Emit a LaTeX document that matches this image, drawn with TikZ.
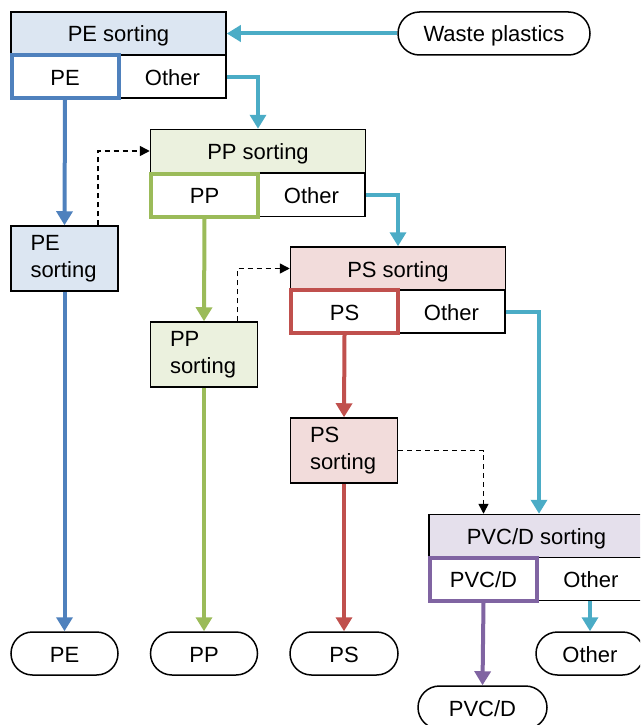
\documentclass[tikz,border=0pt]{standalone}
\usepackage{fontspec}
\setmainfont{Liberation Sans}
\usetikzlibrary{arrows.meta,calc}
\definecolor{peblue}{HTML}{4F81BD}
\definecolor{pefill}{HTML}{DCE6F2}
\definecolor{ppgreen}{HTML}{9BBB59}
\definecolor{ppfill}{HTML}{EBF1DE}
\definecolor{psred}{HTML}{C0504D}
\definecolor{psfill}{HTML}{F2DCDB}
\definecolor{pvcpurple}{HTML}{8064A2}
\definecolor{pvcfill}{HTML}{E5E0EC}
\definecolor{cyanline}{HTML}{4BACC6}
\tikzset{
  x=1pt, y=-1pt,
  every node/.style={font=\fontsize{22}{27}\selectfont, inner sep=0pt},
  one/.style={text height=17pt, text depth=0pt},
  hdr/.style={one, draw=black, line width=1.5pt, minimum width=215pt, minimum height=43pt},
  oth/.style={one, draw=black, line width=1.5pt, fill=white, minimum width=107pt, minimum height=43pt},
  hil/.style={one, draw=#1, line width=4pt, fill=white, minimum width=107pt, minimum height=43pt},
  small/.style={draw=black, line width=1.5pt, minimum width=107pt, minimum height=65pt, align=left, text width=68pt, inner xsep=19pt},
  term/.style={one, draw=black, line width=1.5pt, rounded corners=21.5pt, minimum height=43pt},
  flow/.style={draw=#1, line width=4pt, -{Triangle[width=16pt,length=14pt]}},
  dsh/.style={draw=black, line width=1.5pt, dash pattern=on 5pt off 4pt, -{Triangle[width=10pt,length=10pt]}}
}
\begin{document}
\begin{tikzpicture}
\useasboundingbox (0,0) rectangle (640,725);
\clip (0,0) rectangle (640,725);

% Waste plastics
\node[term, minimum width=192pt] (waste) at (494,33.5) {Waste plastics};

% PE group
\node[hdr, fill=pefill] (pehdr) at (118.5,33.5) {PE sorting};
\node[oth] (peoth) at (172.5,76.5) {Other};
\node[hil=peblue] (pea) at (65,76.5) {PE};
\node[small, fill=pefill] (pes) at (64.5,258.5) {PE\\sorting};
\node[term, minimum width=107pt] (pet) at (64.5,653.5) {PE};

% PP group
\node[hdr, fill=ppfill] (pphdr) at (258,151) {PP sorting};
\node[oth] (ppoth) at (311.5,195) {Other};
\node[hil=ppgreen] (ppa) at (204.5,195) {PP};
\node[small, fill=ppfill] (pps) at (204,354.5) {PP\\sorting};
\node[term, minimum width=107pt] (ppt) at (204,653.5) {PP};

% PS group
\node[hdr, fill=psfill] (pshdr) at (398,268.5) {PS sorting};
\node[oth] (psoth) at (451.5,311.5) {Other};
\node[hil=psred] (psa) at (344.5,311.5) {PS};
\node[small, fill=psfill] (pss) at (344,450.5) {PS\\sorting};
\node[term, minimum width=108pt] (pst) at (344,653.5) {PS};

% PVC/D group (runs off the right edge)
\node[hdr, fill=pvcfill] (pvchdr) at (536.5,536) {PVC/D sorting};
\node[oth] (pvcoth) at (591,579) {Other};
\node[hil=pvcpurple] (pvca) at (483.5,579) {PVC/D};
\node[term, minimum width=108pt] (otht) at (590,653.5) {Other};
\node[term, minimum width=129pt] (pvct) at (482.5,707.5) {PVC/D};

% cyan flow of "Other"
\draw[flow=cyanline] (waste.west) -- (pehdr.east);
\draw[flow=cyanline] (peoth.east) -| (pphdr.north);
\draw[flow=cyanline] (ppoth.east) -| (pshdr.north);
\draw[flow=cyanline] (psoth.east) -| (pvca.south east |- pvchdr.north);
\draw[flow=cyanline] (otht.north |- pvcoth.south) -- (otht.north);

% coloured flows
\draw[flow=peblue] (pea.south) -- (pes.north);
\draw[flow=peblue] (pes.south) -- (pet.north);
\draw[flow=ppgreen] (ppa.south) -- (pps.north);
\draw[flow=ppgreen] (pps.south) -- (ppt.north);
\draw[flow=psred] (psa.south) -- (pss.north);
\draw[flow=psred] (pss.south) -- (pst.north);
\draw[flow=pvcpurple] (pvca.south) -- (pvct.north);

% dashed feedback
\draw[dsh] ([xshift=-21pt]pes.north east) |- (pphdr.west);
\draw[dsh] ([xshift=-21pt]pps.north east) |- (pshdr.west);
\draw[dsh] (pss.east) -| (pvca.center |- pvchdr.north);
\end{tikzpicture}
\end{document}
